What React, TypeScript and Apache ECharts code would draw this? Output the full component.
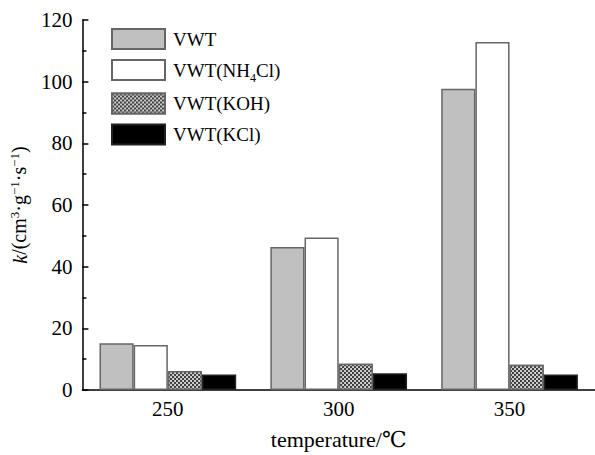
import React, { useEffect, useRef } from "react";
import * as echarts from "echarts";

const categories = ["250", "300", "350"];
const seriesNames = ["VWT", "VWT(NH4Cl)", "VWT(KOH)", "VWT(KCl)"];
const vwt = [15.2, 46.4, 97.7];
const vwtNH4Cl = [14.6, 49.5, 112.9];
const vwtKOH = [6.2, 8.5, 8.2];
const vwtKCl = [5.0, 5.4, 5.0];
const yTicks = { min: 0, max: 120, interval: 20 };

const FONT = "'Liberation Serif', 'DejaVu Serif', serif";

export default function App() {
  const ref = useRef<HTMLDivElement>(null);
  useEffect(() => {
    if (!ref.current) return;
    const chart = echarts.init(ref.current, null, { renderer: "svg" });
    const border = { borderColor: "#666", borderWidth: 1.5 };
    chart.setOption({
      animation: false,
      backgroundColor: "#fff",
      textStyle: { fontFamily: FONT, color: "#000" },
      grid: { left: 82, top: 20, bottom: 59, right: -9, containLabel: false },
      legend: {
        orient: "vertical",
        left: 106,
        top: 23,
        itemWidth: 53,
        itemHeight: 20,
        itemGap: 9,
        icon: "rect",
        data: seriesNames,
        formatter: (n: string) => (n === "VWT(NH4Cl)" ? "VWT(NH{sub|4}Cl)" : n),
        textStyle: {
          fontFamily: FONT,
          fontSize: 19,
          color: "#000",
          padding: [0, 0, 0, 3],
          rich: {
            sub: { fontFamily: FONT, fontSize: 12, verticalAlign: "bottom", lineHeight: 12, padding: [0, 0, -4, 0] },
          },
        },
      },
      xAxis: {
        type: "category",
        data: categories,
        name: "temperature/℃",
        nameLocation: "middle",
        nameGap: 38,
        nameTextStyle: { fontFamily: FONT, fontSize: 22, color: "#000" },
        axisLine: { lineStyle: { color: "#000", width: 1.5 } },
        axisTick: { inside: true, length: 5, lineStyle: { color: "#000", width: 1.5 } },
        axisLabel: { fontFamily: FONT, fontSize: 21, color: "#000", margin: 8 },
        splitLine: { show: false },
      },
      yAxis: {
        type: "value",
        min: yTicks.min,
        max: yTicks.max,
        interval: yTicks.interval,
        name: "{i|k}/(cm{sup|3}·g{sup|−1}·s{sup|−1})",
        nameLocation: "middle",
        nameGap: 49,
        nameRotate: 90,
        nameTextStyle: {
          fontFamily: FONT,
          fontSize: 20,
          color: "#000",
          rich: {
            i: { fontFamily: FONT, fontSize: 20, fontStyle: "italic", lineHeight: 22, verticalAlign: "bottom" },
            sup: { fontFamily: FONT, fontSize: 13, lineHeight: 13, verticalAlign: "top" },
          },
        },
        axisLine: { show: true, lineStyle: { color: "#000", width: 1.5 } },
        axisTick: { show: true, inside: true, length: 6, lineStyle: { color: "#000", width: 1.5 } },
        minorTick: { show: true, splitNumber: 2, length: 4, lineStyle: { color: "#000", width: 1.5 } },
        axisLabel: { fontFamily: FONT, fontSize: 21, color: "#000", margin: 10 },
        splitLine: { show: false },
      },
      series: [
        {
          name: seriesNames[0],
          type: "bar",
          data: vwt,
          barGap: "0%",
          barCategoryGap: "20%",
          itemStyle: { color: "#c0c0c0", ...border },
        },
        {
          name: seriesNames[1],
          type: "bar",
          data: vwtNH4Cl,
          barGap: "0%",
          barCategoryGap: "20%",
          itemStyle: { color: "#ffffff", ...border },
        },
        {
          name: seriesNames[2],
          type: "bar",
          data: vwtKOH,
          barGap: "0%",
          barCategoryGap: "20%",
          itemStyle: {
            color: "#404040",
            ...border,
            decal: {
              symbol: "circle",
              symbolSize: 0.9,
              color: "#ffffff",
              dashArrayX: [[2, 2], [0, 2, 2, 0]],
              dashArrayY: [2, 0],
              rotation: 0,
            },
          },
        },
        {
          name: seriesNames[3],
          type: "bar",
          data: vwtKCl,
          barGap: "0%",
          barCategoryGap: "20%",
          itemStyle: { color: "#000000", borderColor: "#222", borderWidth: 1.5 },
        },
      ],
    });
    return () => chart.dispose();
  }, []);
  return <div ref={ref} style={{ width: 595, height: 455, position: "absolute", left: 0, top: 0 }} />;
}
